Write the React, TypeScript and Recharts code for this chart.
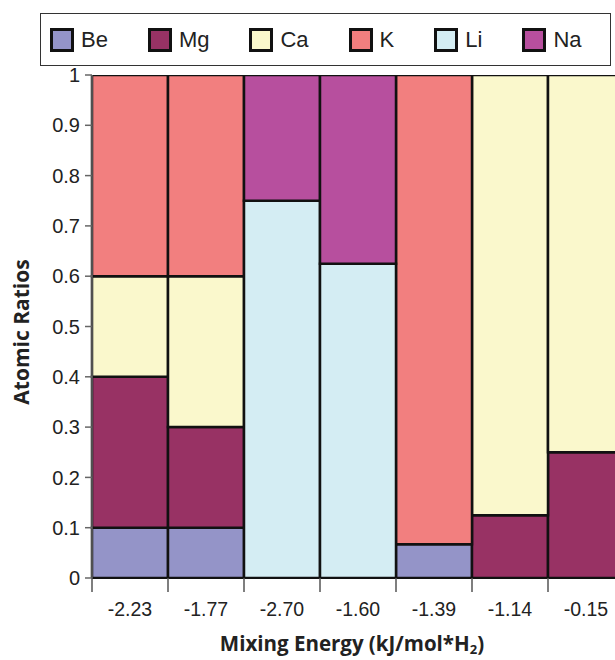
import { BarChart, Bar, XAxis, YAxis, Legend, Label } from 'recharts'

const categories = ['-2.23', '-1.77', '-2.70', '-1.60', '-1.39', '-1.14', '-0.15']
const be = [0.1, 0.1, 0, 0, 0.067, 0, 0]
const mg = [0.3, 0.2, 0, 0, 0, 0.125, 0.25]
const ca = [0.2, 0.3, 0, 0, 0, 0.875, 0.75]
const k = [0.4, 0.4, 0, 0, 0.933, 0, 0]
const li = [0, 0, 0.75, 0.625, 0, 0, 0]
const na = [0, 0, 0.25, 0.375, 0, 0, 0]
const yTicks = [0, 0.1, 0.2, 0.3, 0.4, 0.5, 0.6, 0.7, 0.8, 0.9, 1]

const series = [
  { key: 'Be', values: be, color: '#9494c8' },
  { key: 'Mg', values: mg, color: '#983264' },
  { key: 'Ca', values: ca, color: '#faf8cc' },
  { key: 'K', values: k, color: '#f27f7f' },
  { key: 'Li', values: li, color: '#d4edf3' },
  { key: 'Na', values: na, color: '#b74f9e' }
]

const data = categories.map((cat, i) => {
  const row: Record<string, string | number> = { cat }
  series.forEach(s => { row[s.key] = s.values[i] })
  return row
})

const tickFont = '"Liberation Sans", Arial, sans-serif'
const titleFont = '"Open Sans", "DejaVu Sans", sans-serif'

function LegendBox() {
  return (
    <div
      style={{
        boxSizing: 'border-box',
        width: 571,
        height: 53,
        border: '1.5px solid #333',
        background: '#fff',
        display: 'flex',
        alignItems: 'center',
        paddingLeft: 9,
        fontFamily: tickFont,
        fontSize: 22,
        color: '#222'
      }}
    >
      {series.map(s => (
        <div key={s.key} style={{ display: 'flex', alignItems: 'center', marginRight: 40 }}>
          <span
            style={{
              boxSizing: 'border-box',
              width: 24,
              height: 24,
              border: '3px solid #111',
              background: s.color,
              display: 'inline-block'
            }}
          />
          <span style={{ marginLeft: 7 }}>{s.key}</span>
        </div>
      ))}
    </div>
  )
}

function XTick(props: any) {
  const { x, y, payload } = props
  const half = payload && payload.offset ? payload.offset : 38
  return (
    <g>
      <line x1={x - half} y1={y - 8} x2={x - half} y2={y + 6} stroke="#555" strokeWidth={1.5} />
      <text x={x} y={y + 30} textAnchor="middle" fontSize={19.5} fontFamily={tickFont} fill="#222">
        {payload.value}
      </text>
    </g>
  )
}

export default function App() {
  return (
    <div
      style={{
        position: 'absolute',
        left: 0,
        top: 0,
        width: 615,
        height: 660,
        overflow: 'hidden',
        background: '#fff'
      }}
    >
      <BarChart
        width={630}
        height={660}
        data={data}
        margin={{ top: 75, right: 6, bottom: 22, left: 0 }}
        barCategoryGap={0}
        barGap={0}
      >
        <Legend
          layout="horizontal"
          verticalAlign="middle"
          align="center"
          wrapperStyle={{ top: 13, left: 40 }}
          content={() => <LegendBox />}
        />
        <XAxis
          dataKey="cat"
          height={60}
          axisLine={{ stroke: '#111', strokeWidth: 2 }}
          tickLine={false}
          tick={<XTick />}
          interval={0}
        >
          <Label
            content={() => (
              <text
                x={352}
                y={651}
                textAnchor="middle"
                fontSize={20.5}
                fontWeight={700}
                fontFamily={titleFont}
                fill="#222"
              >
                Mixing Energy (kJ/mol*H
                <tspan fontSize={13} dy={3}>2</tspan>
                <tspan dy={-3}>)</tspan>
              </text>
            )}
          />
        </XAxis>
        <YAxis
          type="number"
          domain={[0, 1]}
          ticks={yTicks}
          allowDataOverflow
          width={92}
          tickSize={7}
          tickMargin={5}
          axisLine={{ stroke: '#666', strokeWidth: 1.5 }}
          tickLine={{ stroke: '#666', strokeWidth: 1.5 }}
          tick={{ fontSize: 20, fontFamily: tickFont, fill: '#222' }}
        >
          <Label
            content={() => (
              <text
                x={0}
                y={0}
                transform="translate(29, 332) rotate(-90)"
                textAnchor="middle"
                fontSize={21}
                fontWeight={700}
                fontFamily={titleFont}
                fill="#222"
              >
                Atomic Ratios
              </text>
            )}
          />
        </YAxis>
        {series.map(s => (
          <Bar
            key={s.key}
            dataKey={s.key}
            stackId="a"
            fill={s.color}
            stroke="#111"
            strokeWidth={2.5}
            isAnimationActive={false}
          />
        ))}
      </BarChart>
    </div>
  )
}
